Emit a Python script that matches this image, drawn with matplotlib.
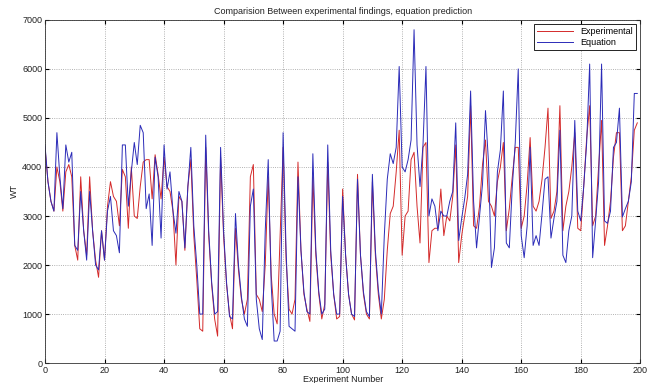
import numpy as np
import matplotlib.pyplot as plt

plt.rcParams['font.family'] = ['Liberation Sans', 'DejaVu Sans']

experimental = [
    4400, 3700, 3300, 3100, 4000, 3700, 3100, 3900, 4050, 3800,
    2400, 2100, 3800, 2700, 2200, 3800, 2700, 2100, 1750, 2700,
    2100, 3200, 3700, 3400, 3300, 2800, 3950, 3800, 2750, 4000,
    3000, 2950, 3600, 4100, 4150, 4150, 3350, 4250, 3850, 3350,
    4200, 3600, 3500, 3100, 2000, 3400, 3300, 2300, 3600, 4150,
    2600, 1700, 700, 650, 4400, 2600, 1600, 900, 550, 4200,
    2600, 1600, 1000, 700, 2750, 1900, 1300, 1000, 1300, 3800,
    4050, 1400, 1300, 1050, 2000, 3800, 1800, 1000, 800, 2600,
    4400, 2100, 1100, 1000, 1300, 4100, 2300, 1400, 1100, 850,
    3800, 2200, 1400, 900, 1200, 4100, 2200, 1400, 900, 950,
    3550, 2200, 1400, 1000, 880, 3850, 2200, 1400, 1000, 900,
    3700, 2200, 1400, 900, 1300, 2300, 3050, 3200, 3900, 4750,
    2200, 3000, 3100, 4150, 4300, 3200, 2450, 4400, 4500, 2050,
    2700, 2750, 2750, 3550, 2600, 3000, 2900, 3400, 4450, 2050,
    2600, 3000, 3400, 5250, 2800, 2750, 3200, 4050, 4550, 3300,
    3200, 3000, 3700, 4000, 4500, 2700, 3150, 3800, 4400, 4400,
    2750, 3000, 3650, 4600, 3200, 3100, 3300, 3750, 4400, 5200,
    2950, 3100, 3500, 5250, 2700, 3200, 3500, 4000, 4700, 2750,
    2700, 3600, 4600, 5250, 2800, 3000, 4000, 4950, 2400, 2800,
    3300, 4200, 4700, 4700, 2700, 2800, 3300, 3800, 4750, 4900,
]

# Equation prediction (blue)
equation = [
    4450, 3700, 3300, 3100, 4700, 3800, 3150, 4450, 4100, 4300,
    2400, 2300, 3500, 2700, 2100, 3500, 2700, 2000, 1900, 2700,
    2100, 3100, 3400, 2700, 2600, 2250, 4450, 4450, 3200, 3900,
    4500, 4050, 4850, 4700, 3150, 3450, 2400, 4200, 3800, 2550,
    4450, 3550, 3900, 3100, 2650, 3500, 3300, 2350, 3600, 4400,
    2800, 2000, 1000, 1000, 4650, 2700, 1650, 1000, 1050, 4400,
    2700, 1650, 950, 900, 3050, 2000, 1350, 900, 750, 3200,
    3550, 1300, 700, 480, 2700, 4150, 1600, 450, 450, 650,
    4700, 2300, 750, 700, 650, 3800, 2300, 1450, 1050, 1000,
    4270, 2300, 1450, 1000, 1100, 4450, 2300, 1400, 1000, 1000,
    3400, 2200, 1400, 1000, 950, 3750, 2200, 1450, 1050, 950,
    3850, 2300, 1500, 1000, 2600, 3750, 4270, 4070, 4400, 6050,
    4000, 3900, 4150, 4550, 6800, 4450, 3600, 4450, 6050, 3000,
    3350, 3200, 2700, 3100, 3000, 3000, 3300, 3500, 4900, 2500,
    2950, 3350, 3850, 5550, 3300, 2350, 3000, 3650, 5150, 4100,
    1950, 2350, 3900, 4350, 5550, 2450, 2350, 3600, 4500, 6000,
    2600, 2150, 2800, 4400, 2400, 2600, 2400, 3050, 3750, 3800,
    2550, 2950, 3300, 4750, 2200, 2050, 2700, 3000, 4950, 3100,
    2900, 3600, 4500, 6100, 2150, 2900, 3700, 6100, 2900, 2850,
    3100, 4400, 4500, 5200, 2980, 3150, 3300, 3700, 5500, 5500,
]

experiment_no = np.arange(len(experimental))

fig = plt.figure(figsize=(6.52, 3.83), dpi=100)
ax = fig.add_axes([0.069, 0.052, 0.913, 0.896])

ax.plot(experiment_no, experimental, color='#d42a2a', linewidth=0.7, label='Experimental')
ax.plot(experiment_no, equation, color='#2b2bb8', linewidth=0.7, label='Equation')

ax.set_xlim(0, 200)
ax.set_ylim(0, 7000)
ax.set_xticks(np.arange(0, 201, 20))
ax.set_yticks(np.arange(0, 7001, 1000))
ax.tick_params(direction='in', labelsize=6.5, length=3, top=True, right=True, pad=2,
               labelcolor='#222222')
ax.grid(True, linestyle=':', color='#999999', linewidth=0.6)
for s in ax.spines.values():
    s.set_linewidth(0.6)
    s.set_color('#333333')

ax.set_title('Comparision Between experimental findings, equation prediction',
             fontsize=6.5, pad=4, color='#222222')
ax.set_xlabel('Experiment Number', fontsize=6.5, labelpad=0, color='#222222')
ax.set_ylabel('WT', fontsize=6.5, labelpad=2, color='#222222')

leg = ax.legend(loc='upper right', fontsize=6.5, fancybox=False, framealpha=1,
                edgecolor='black', borderpad=0.3, handlelength=4, labelspacing=0.2)
leg.get_frame().set_linewidth(0.6)

fig.savefig('out.png', dpi=100)
